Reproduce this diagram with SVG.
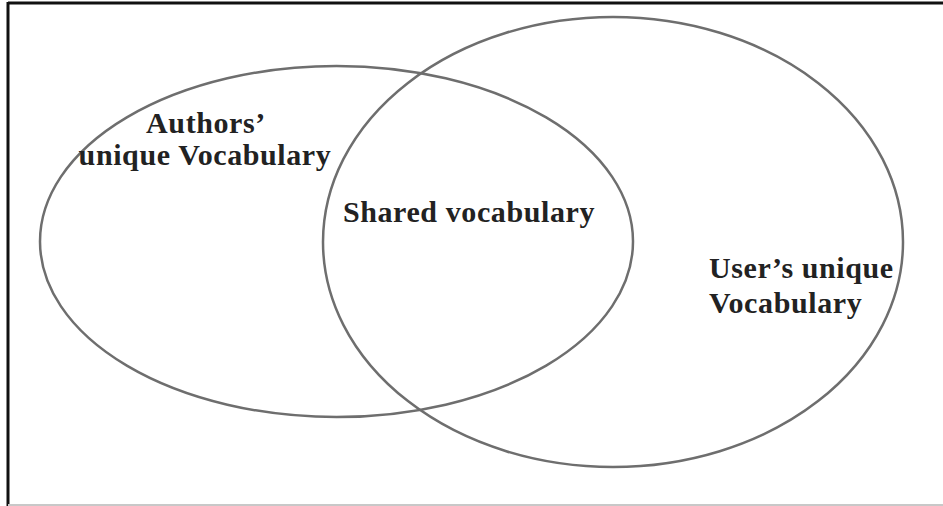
<svg xmlns="http://www.w3.org/2000/svg" width="943" height="506" viewBox="0 0 943 506">
<style>
.set{fill:none;stroke:#6e6e6e;stroke-width:2.5}
.lbl{font-family:"Liberation Serif","Times New Roman",serif;font-weight:bold;font-size:30px;letter-spacing:0.6px;fill:#222}
</style>
<rect x="0" y="0" width="943" height="506" fill="#fff"/>
<g id="frame">
<line x1="8" y1="3" x2="943" y2="3" stroke="#111" stroke-width="3"/>
<line x1="8" y1="2" x2="8" y2="506" stroke="#111" stroke-width="3"/>
<line x1="8" y1="505" x2="943" y2="505" stroke="#c8c8c8" stroke-width="2"/>
</g>
<g id="authors">
<ellipse class="set" cx="336.5" cy="241.5" rx="296.5" ry="175.5"/>
<text class="lbl" x="206" y="133" text-anchor="middle">Authors’</text>
<text class="lbl" x="205" y="165" text-anchor="middle">unique Vocabulary</text>
</g>
<g id="users">
<ellipse class="set" cx="613" cy="242" rx="290" ry="225"/>
<text class="lbl" x="709" y="278">User’s unique</text>
<text class="lbl" x="709" y="313">Vocabulary</text>
</g>
<g id="shared">
<text class="lbl" x="469" y="222" text-anchor="middle">Shared vocabulary</text>
</g>
<g id="connectors"></g>
</svg>
